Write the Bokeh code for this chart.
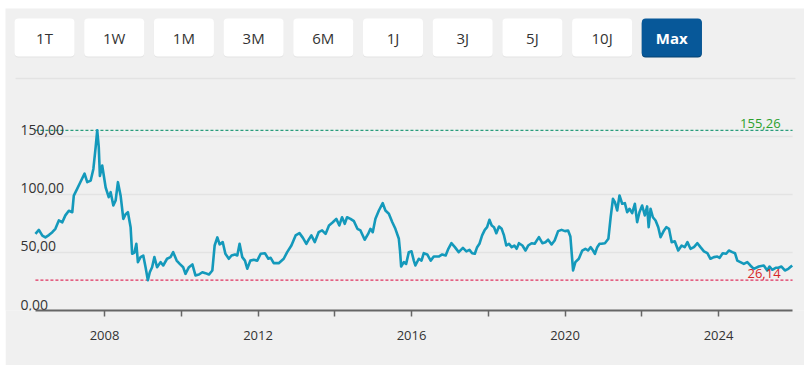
from bokeh.plotting import figure
from bokeh.models import Range1d, FixedTicker
from bokeh.core.properties import value
from bokeh.embed import file_html
from bokeh.resources import INLINE

# ---------------- data (decimal year, price) ----------------
years = [
    2006.20, 2006.29, 2006.38, 2006.46, 2006.55, 2006.64, 2006.72, 2006.81, 2006.90, 2006.98,
    2007.07, 2007.16, 2007.20, 2007.29, 2007.37, 2007.48, 2007.55, 2007.64, 2007.71, 2007.77,
    2007.81, 2007.85, 2007.88, 2007.94, 2008.03, 2008.11, 2008.16, 2008.23, 2008.29, 2008.35,
    2008.42, 2008.49, 2008.55, 2008.61, 2008.68, 2008.72, 2008.78, 2008.83, 2008.87, 2008.94,
    2009.01, 2009.07, 2009.13, 2009.18, 2009.24, 2009.30, 2009.37, 2009.46, 2009.53, 2009.63,
    2009.72, 2009.79, 2009.88, 2009.96, 2010.05, 2010.11, 2010.20, 2010.29, 2010.37, 2010.46,
    2010.55, 2010.63, 2010.72, 2010.81, 2010.87, 2010.94, 2011.00, 2011.08, 2011.15, 2011.24,
    2011.31, 2011.40, 2011.46, 2011.52, 2011.59, 2011.66, 2011.72, 2011.80, 2011.89, 2011.98,
    2012.07, 2012.18, 2012.27, 2012.33, 2012.41, 2012.54, 2012.67, 2012.76, 2012.87, 2012.98,
    2013.08, 2013.17, 2013.26, 2013.32, 2013.39, 2013.48, 2013.58, 2013.67, 2013.76, 2013.85,
    2013.95, 2014.04, 2014.12, 2014.19, 2014.26, 2014.32, 2014.41, 2014.50, 2014.59, 2014.67,
    2014.78, 2014.87, 2014.93, 2014.99, 2015.06, 2015.15, 2015.25, 2015.32, 2015.41, 2015.50,
    2015.58, 2015.67, 2015.70, 2015.73, 2015.80, 2015.86, 2015.93, 2016.00, 2016.06, 2016.10,
    2016.19, 2016.26, 2016.32, 2016.41, 2016.50, 2016.58, 2016.71, 2016.80, 2016.89, 2016.96,
    2017.04, 2017.13, 2017.23, 2017.34, 2017.43, 2017.51, 2017.58, 2017.65, 2017.71, 2017.77,
    2017.84, 2017.91, 2017.97, 2018.03, 2018.09, 2018.15, 2018.21, 2018.28, 2018.35, 2018.41,
    2018.47, 2018.54, 2018.61, 2018.68, 2018.74, 2018.80, 2018.89, 2018.97, 2019.04, 2019.13,
    2019.21, 2019.32, 2019.41, 2019.49, 2019.56, 2019.65, 2019.73, 2019.82, 2019.91, 2020.00,
    2020.08, 2020.14, 2020.19, 2020.21, 2020.27, 2020.36, 2020.45, 2020.53, 2020.60, 2020.67,
    2020.73, 2020.78, 2020.84, 2020.90, 2020.95, 2021.04, 2021.13, 2021.19, 2021.25, 2021.30,
    2021.36, 2021.42, 2021.49, 2021.56, 2021.62, 2021.68, 2021.75, 2021.82, 2021.88, 2021.94,
    2022.01, 2022.08, 2022.14, 2022.18, 2022.23, 2022.29, 2022.36, 2022.43, 2022.49, 2022.58,
    2022.64, 2022.71, 2022.78, 2022.86, 2022.95, 2023.04, 2023.12, 2023.19, 2023.27, 2023.36,
    2023.45, 2023.53, 2023.62, 2023.71, 2023.79, 2023.88, 2023.97, 2024.03, 2024.11, 2024.20,
    2024.27, 2024.36, 2024.43, 2024.49, 2024.57, 2024.66, 2024.75, 2024.83, 2024.92, 2025.05,
    2025.18, 2025.27, 2025.33, 2025.40, 2025.49, 2025.56, 2025.64, 2025.73, 2025.82, 2025.92,
]
prices = [
    66.0, 69.5, 64.6, 63.0, 65.0, 67.5, 70.4, 77.6, 76.0, 82.0,
    86.0, 84.7, 99.0, 105.0, 110.6, 118.0, 110.6, 112.0, 122.0, 141.0,
    155.26, 141.0, 116.0, 125.0, 106.0, 97.7, 102.0, 90.5, 94.8, 110.6,
    99.0, 79.0, 83.0, 84.7, 71.8, 48.9, 50.0, 57.5, 41.7, 46.0,
    47.4, 37.3, 26.14, 33.0, 37.3, 46.0, 37.3, 41.7, 38.8, 44.6,
    46.0, 50.3, 43.0, 40.2, 37.3, 31.6, 37.3, 39.7, 30.2, 31.0,
    33.0, 32.2, 31.0, 34.5, 56.0, 63.0, 57.0, 59.0, 48.9, 44.6,
    47.4, 48.3, 47.4, 57.5, 46.0, 43.0, 36.0, 43.0, 43.7, 43.0,
    48.9, 49.4, 44.6, 45.4, 40.8, 40.8, 44.6, 50.3, 56.0, 64.7,
    66.7, 62.6, 57.5, 61.0, 64.7, 59.0, 67.5, 69.0, 66.0, 73.3,
    76.1, 79.0, 73.3, 80.4, 74.7, 80.4, 79.0, 77.0, 70.4, 69.0,
    61.0, 66.0, 70.4, 67.5, 79.0, 86.2, 92.5, 86.2, 83.4, 76.1,
    70.4, 61.8, 51.7, 37.9, 41.7, 40.2, 50.3, 51.0, 43.0, 38.8,
    44.6, 43.0, 49.4, 48.3, 43.0, 46.5, 46.5, 48.3, 47.4, 53.2,
    58.0, 54.6, 50.3, 54.0, 51.0, 52.3, 49.4, 48.9, 54.6, 57.5,
    64.7, 69.5, 71.8, 78.2, 73.3, 71.8, 66.6, 72.4, 70.4, 64.7,
    56.0, 57.5, 54.6, 56.0, 53.2, 58.0, 56.0, 51.7, 56.0, 58.0,
    57.5, 63.2, 58.0, 58.9, 61.0, 56.9, 60.3, 68.4, 69.5, 68.4,
    69.0, 63.8, 43.0, 34.5, 41.7, 44.6, 51.7, 53.2, 51.7, 54.6,
    51.7, 48.9, 54.6, 57.5, 57.5, 58.0, 61.8, 80.4, 96.3, 93.4,
    86.2, 99.1, 92.0, 92.5, 84.7, 87.7, 83.9, 92.0, 76.1, 84.7,
    90.5, 81.9, 89.7, 71.8, 87.7, 80.4, 77.6, 71.8, 63.2, 69.0,
    71.8, 70.4, 58.9, 59.7, 51.7, 56.0, 54.6, 58.9, 53.2, 54.6,
    58.0, 54.6, 51.0, 49.4, 44.6, 46.0, 46.5, 45.4, 49.4, 48.9,
    51.7, 50.3, 49.4, 43.0, 41.7, 40.2, 41.7, 38.8, 35.9, 37.9,
    38.8, 34.5, 37.9, 35.1, 36.8, 36.8, 37.9, 34.5, 35.9, 38.8,
]
max_price = 155.26
min_price = 26.14
y_ticks = [0, 50, 100, 150]
grid_ticks = [0, 50, 100, 150]
top_line = 200
x_ticks = [2008, 2010, 2012, 2014, 2016, 2018, 2020, 2022, 2024]
x_tick_labels = ["2008", "", "2012", "", "2016", "", "2020", "", "2024"]
x_start, x_end = 2006.2, 2025.93          # time span shown on the axis
buttons = ["1T", "1W", "1M", "3M", "6M", "1J", "3J", "5J", "10J", "Max"]
active_button = "Max"

FONT = "Open Sans"
BG = "#f0f0f0"
W, H = 799, 357
BOTTOM = 55


def fmt(v):
    return f"{v:.2f}".replace(".", ",")


p = figure(width=W, height=H, margin=(8, 0, 0, 5),
           x_range=Range1d(2005.420, 2026.241), y_range=Range1d(0, 260.3),
           output_backend="svg", toolbar_location=None, y_axis_location=None,
           min_border_left=0, min_border_right=0, min_border_top=0, min_border_bottom=BOTTOM,
           background_fill_color=BG, border_fill_color=BG, outline_line_color=None)
p.grid.visible = False

# pixel-like helper ranges for the range selector buttons
p.extra_x_ranges = {"px": Range1d(0, W)}
p.extra_y_ranges = {"py": Range1d(H - BOTTOM, 0)}

# ---------------- buttons ----------------
step = 69.7
lefts = [9 + i * step for i in range(len(buttons))]
rights = [l + 60 for l in lefts]
n = len(buttons)
fills = ["#075899" if b == active_button else "#ffffff" for b in buttons]
shadows = ["#04416f" if b == active_button else "#e3e3e3" for b in buttons]
p.quad(left=lefts, right=rights, top=[11] * n, bottom=[49] * n,
       fill_color=shadows, line_color=None, border_radius=4,
       x_range_name="px", y_range_name="py")
p.quad(left=lefts, right=rights, top=[10] * n, bottom=[48] * n,
       fill_color=fills, line_color=None, border_radius=4,
       x_range_name="px", y_range_name="py")
for b, l in zip(buttons, lefts):
    act = b == active_button
    p.text(x=[l + 30], y=[29], text=[b], text_align="center", text_baseline="middle",
           text_font=value(FONT), text_font_size="15px",
           text_font_style="bold" if act else "normal",
           text_color="#ffffff" if act else "#333333",
           x_range_name="px", y_range_name="py")

# separator line at the top of the chart area
p.segment(x0=[10], x1=[790], y0=[70], y1=[70], line_color="#e3e3e3", line_width=1.5,
          x_range_name="px", y_range_name="py")

# ---------------- grid ----------------
p.segment(x0=[x_start] * len(grid_ticks), x1=[x_end] * len(grid_ticks),
          y0=grid_ticks, y1=grid_ticks, line_color="#e3e3e3", line_width=1.5)

# ---------------- x axis ----------------
ax = p.xaxis[0]
ax.bounds = (x_start, x_end)
ax.ticker = FixedTicker(ticks=x_ticks)
ax.major_label_overrides = {t: l for t, l in zip(x_ticks, x_tick_labels)}
ax.axis_line_color = "#666666"
ax.axis_line_width = 2
ax.major_tick_line_color = "#666666"
ax.major_tick_line_width = 1.5
ax.major_tick_in = 0
ax.major_tick_out = 6
ax.minor_tick_line_color = None
ax.major_label_standoff = 14
ax.major_label_text_font = FONT
ax.major_label_text_font_size = "13px"
ax.major_label_text_color = "#333333"

# ---------------- max / min reference lines ----------------
p.segment(x0=[x_start], x1=[x_end], y0=[max_price], y1=[max_price],
          line_color="#2a9d7c", line_dash="3 2", line_width=1.2)
p.segment(x0=[x_start], x1=[x_end], y0=[min_price], y1=[min_price],
          line_color="#e0305e", line_dash="3 2", line_width=1.2)

# ---------------- price line ----------------
p.line(years, prices, line_color="#1499bb", line_width=2.6, line_join="round")

# ---------------- y labels ----------------
p.text(x=[x_start] * len(y_ticks), y=y_ticks, text=[fmt(v) for v in y_ticks],
       x_offset=-15, y_offset=-1, text_align="left", text_baseline="bottom",
       text_font=value(FONT), text_font_size="14px", text_color="#333333")

p.text(x=[x_end], y=[max_price], text=[fmt(max_price)], x_offset=-12, y_offset=-2,
       text_align="right", text_baseline="bottom",
       text_font=value(FONT), text_font_size="13px", text_color="#2ca02c")
p.text(x=[x_end], y=[min_price], text=[fmt(min_price)], x_offset=-12, y_offset=-2,
       text_align="right", text_baseline="bottom",
       text_font=value(FONT), text_font_size="13px", text_color="#d62728")

open("out.html", "w").write(file_html(p, INLINE))
